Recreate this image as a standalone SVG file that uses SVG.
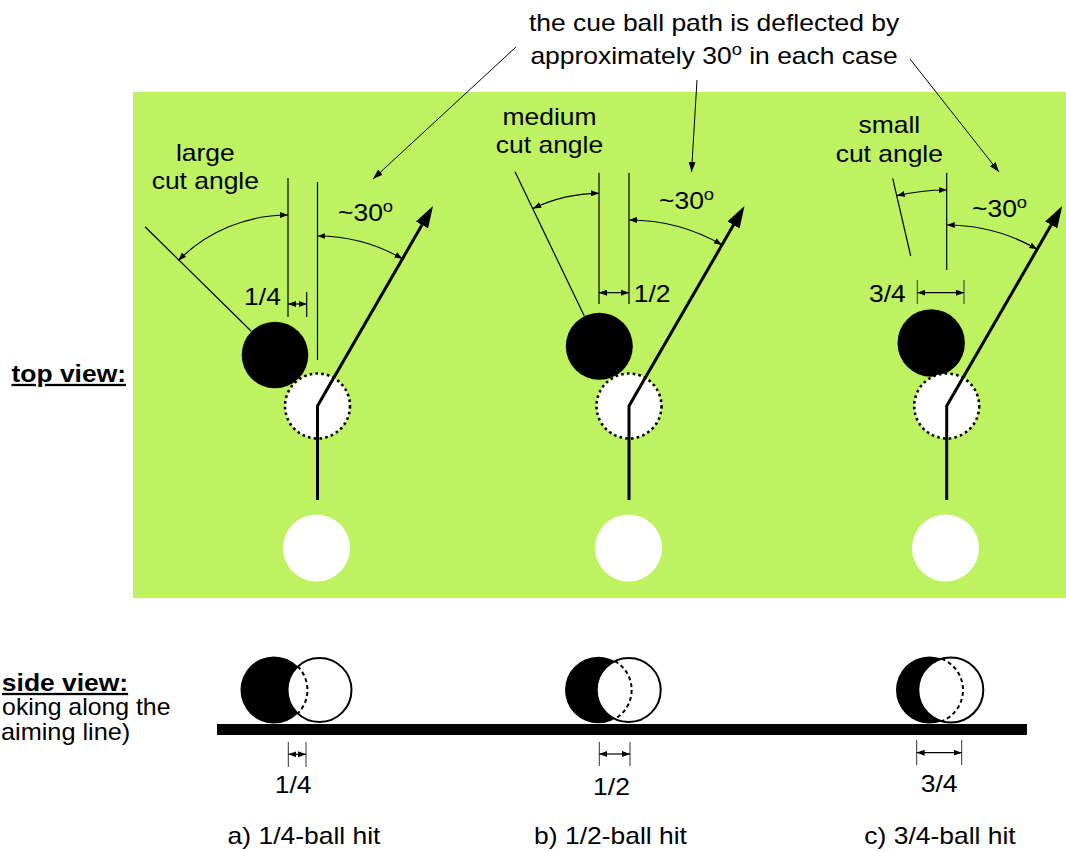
<svg xmlns="http://www.w3.org/2000/svg" width="1066" height="851" viewBox="0 0 1066 851">
<defs>
<style>
.t{font-family:"Liberation Sans",Arial,sans-serif;font-size:23px;fill:#000}
.b{font-family:"Liberation Sans",Arial,sans-serif;font-size:23px;font-weight:bold;fill:#000;text-decoration:underline}
.sup{font-size:16px}
.thin{stroke:#000;stroke-width:1.2;fill:none}
.dim{stroke:#000;stroke-width:1.2;fill:none;marker-start:url(#sa);marker-end:url(#sa)}
.tick{stroke:#333;stroke-width:1;fill:none}
.path{stroke:#000;stroke-width:3;fill:none;marker-end:url(#big)}
.ghost{fill:#fff;stroke:#000;stroke-width:2.6;stroke-dasharray:2.6 3.2}
.cue{fill:#fff}
.obj{fill:#000}
.sw{fill:#fff;stroke:#000;stroke-width:2}
.dash{fill:none;stroke:#000;stroke-width:2;stroke-dasharray:4 3}
.note{stroke:#000;stroke-width:1;fill:none;marker-end:url(#na)}
</style>
<marker id="sa" viewBox="0 -3 8 6" refX="8" refY="0" markerWidth="8" markerHeight="6" markerUnits="userSpaceOnUse" orient="auto-start-reverse">
<path d="M0,-3 L8,0 L0,3 z" fill="#000"/>
</marker>
<marker id="na" viewBox="0 -3.5 10 7" refX="10" refY="0" markerWidth="10" markerHeight="7" markerUnits="userSpaceOnUse" orient="auto">
<path d="M0,-3.5 L10,0 L0,3.5 z" fill="#000"/>
</marker>
<marker id="big" viewBox="0 -7 22 14" refX="1" refY="0" markerWidth="22" markerHeight="14" markerUnits="userSpaceOnUse" orient="auto">
<path d="M0,-7 L22,0 L0,7 z" fill="#000"/>
</marker>
</defs>
<rect width="1066" height="851" fill="#fff"/>
<rect id="table-top" x="133" y="92" width="933" height="506" fill="#BEF260"/>

<g id="labels">
<text class="b" text-anchor="end" transform="translate(126,382) scale(1.15,1)">top view:</text>
<text class="b" text-anchor="middle" transform="translate(65,691) scale(1.15,1)">side view:</text>
<text class="t" text-anchor="end" transform="translate(170.5,715) scale(1.08,1)">oking along the</text>
<text class="t" text-anchor="start" transform="translate(1,740) scale(1.1,1)">aiming line)</text>
</g>

<g id="note">
<text class="t" text-anchor="middle" transform="translate(714,31) scale(1.15,1)">the cue ball path is deflected by</text>
<text class="t" text-anchor="middle" transform="translate(714,64) scale(1.15,1)">approximately 30<tspan class="sup" dy="-9">o</tspan><tspan dy="9"> in each case</tspan></text>
</g>

<g id="connectors">
<line class="note" x1="516" y1="47" x2="373" y2="179"/>
<line class="note" x1="697" y1="80" x2="691.5" y2="172"/>
<line class="note" x1="910" y1="59" x2="999" y2="172"/>
</g>

<g id="top-a">
<text class="t" text-anchor="middle" transform="translate(205.3,161) scale(1.15,1)">large</text>
<text class="t" text-anchor="middle" transform="translate(205.3,189) scale(1.15,1)">cut angle</text>
<line class="thin" x1="288" y1="178" x2="288" y2="317"/>
<line class="thin" x1="317.5" y1="182" x2="317.5" y2="360"/>
<line class="thin" x1="306.7" y1="292" x2="306.7" y2="317"/>
<line class="dim" x1="288" y1="304" x2="306.7" y2="304"/>
<text class="t" text-anchor="middle" transform="translate(262.5,305) scale(1.15,1)">1/4</text>
<line class="thin" x1="251" y1="331" x2="145" y2="226.7"/>
<path class="dim" d="M178.4 260.4 A155 155 0 0 1 288 215"/>
<path class="dim" d="M317.5 236 A170 170 0 0 1 402.5 258.8"/>
<text class="t" transform="translate(338,221) scale(1.15,1)">~30<tspan class="sup" dy="-9">o</tspan></text>
<circle class="obj" cx="275" cy="355" r="33.3"/>
<circle class="ghost" cx="317.5" cy="406" r="32.5"/>
<circle class="cue" cx="316.5" cy="548" r="33.5"/>
<polyline class="path" points="317.5,500 317.5,406 422.5,224.1"/>
</g>

<g id="top-b">
<text class="t" text-anchor="middle" transform="translate(549.5,125) scale(1.15,1)">medium</text>
<text class="t" text-anchor="middle" transform="translate(549.5,153) scale(1.15,1)">cut angle</text>
<line class="thin" x1="599" y1="172.7" x2="599" y2="304"/>
<line class="thin" x1="629" y1="172.7" x2="629" y2="304"/>
<line class="dim" x1="599" y1="292.7" x2="629" y2="292.7"/>
<text class="t" text-anchor="middle" transform="translate(652.2,302) scale(1.15,1)">1/2</text>
<line class="thin" x1="584.3" y1="316" x2="515" y2="171.7"/>
<path class="dim" d="M533.1 208.4 A153 153 0 0 1 599 193.3"/>
<path class="dim" d="M629 220 A186 186 0 0 1 722 244.9"/>
<text class="t" transform="translate(659,209) scale(1.15,1)">~30<tspan class="sup" dy="-9">o</tspan></text>
<circle class="obj" cx="599.3" cy="346.3" r="33.5"/>
<circle class="ghost" cx="629" cy="406" r="32.5"/>
<circle class="cue" cx="628.5" cy="548" r="33.5"/>
<polyline class="path" points="629,500 629,406 734,224.1"/>
</g>

<g id="top-c">
<text class="t" text-anchor="middle" transform="translate(889.3,133) scale(1.15,1)">small</text>
<text class="t" text-anchor="middle" transform="translate(889.3,161.5) scale(1.15,1)">cut angle</text>
<line class="thin" x1="946.7" y1="172.7" x2="946.7" y2="270"/>
<line class="tick" x1="917.3" y1="280" x2="917.3" y2="304"/>
<line class="tick" x1="964" y1="280" x2="964" y2="304"/>
<line class="dim" x1="917.3" y1="292.7" x2="964" y2="292.7"/>
<text class="t" text-anchor="middle" transform="translate(887.4,302) scale(1.15,1)">3/4</text>
<line class="thin" x1="910.7" y1="256" x2="892.7" y2="178.3"/>
<path class="dim" d="M896.8 195.7 A221 221 0 0 1 946.7 190"/>
<path class="dim" d="M946.7 225 A181 181 0 0 1 1037.2 249.3"/>
<text class="t" transform="translate(972,217) scale(1.15,1)">~30<tspan class="sup" dy="-9">o</tspan></text>
<circle class="obj" cx="931.2" cy="343" r="33.7"/>
<circle class="ghost" cx="946.7" cy="406" r="32.5"/>
<circle class="cue" cx="945.5" cy="548" r="33.5"/>
<polyline class="path" points="946.7,500 946.7,406 1051.7,224.1"/>
</g>

<rect id="table-side" x="217" y="724" width="810" height="11" fill="#000"/>

<g id="side-a">
<circle class="obj" cx="274" cy="690" r="33.5"/>
<circle class="sw" cx="319.5" cy="690" r="32"/>
<path class="dash" d="M297.8 666.5 A33.5 33.5 0 0 1 297.8 713.5"/>
<line class="tick" x1="288.3" y1="742" x2="288.3" y2="767"/>
<line class="tick" x1="306" y1="742" x2="306" y2="767"/>
<line class="dim" x1="288.3" y1="754.3" x2="306" y2="754.3"/>
<text class="t" text-anchor="middle" transform="translate(293.2,793) scale(1.15,1)">1/4</text>
<text class="t" text-anchor="middle" transform="translate(304,844) scale(1.15,1)">a) 1/4-ball hit</text>
</g>

<g id="side-b">
<circle class="obj" cx="598.3" cy="690" r="33.3"/>
<circle class="sw" cx="628.7" cy="690" r="32"/>
<path class="dash" d="M614.9 661.1 A33.3 33.3 0 0 1 614.9 718.9"/>
<line class="tick" x1="599.3" y1="742" x2="599.3" y2="766"/>
<line class="tick" x1="630" y1="742" x2="630" y2="766"/>
<line class="dim" x1="599.3" y1="754" x2="630" y2="754"/>
<text class="t" text-anchor="middle" transform="translate(611.5,795) scale(1.15,1)">1/2</text>
<text class="t" text-anchor="middle" transform="translate(610.5,844) scale(1.15,1)">b) 1/2-ball hit</text>
</g>

<g id="side-c">
<circle class="obj" cx="929.5" cy="690" r="33.5"/>
<circle class="sw" cx="950.8" cy="690" r="32.5"/>
<path class="dash" d="M941.7 658.8 A33.5 33.5 0 0 1 941.7 721.2"/>
<line class="tick" x1="916.7" y1="740" x2="916.7" y2="765"/>
<line class="tick" x1="961.7" y1="740" x2="961.7" y2="765"/>
<line class="dim" x1="916.7" y1="752.7" x2="961.7" y2="752.7"/>
<text class="t" text-anchor="middle" transform="translate(939.1,792) scale(1.15,1)">3/4</text>
<text class="t" text-anchor="middle" transform="translate(940,844) scale(1.15,1)">c) 3/4-ball hit</text>
</g>
</svg>
